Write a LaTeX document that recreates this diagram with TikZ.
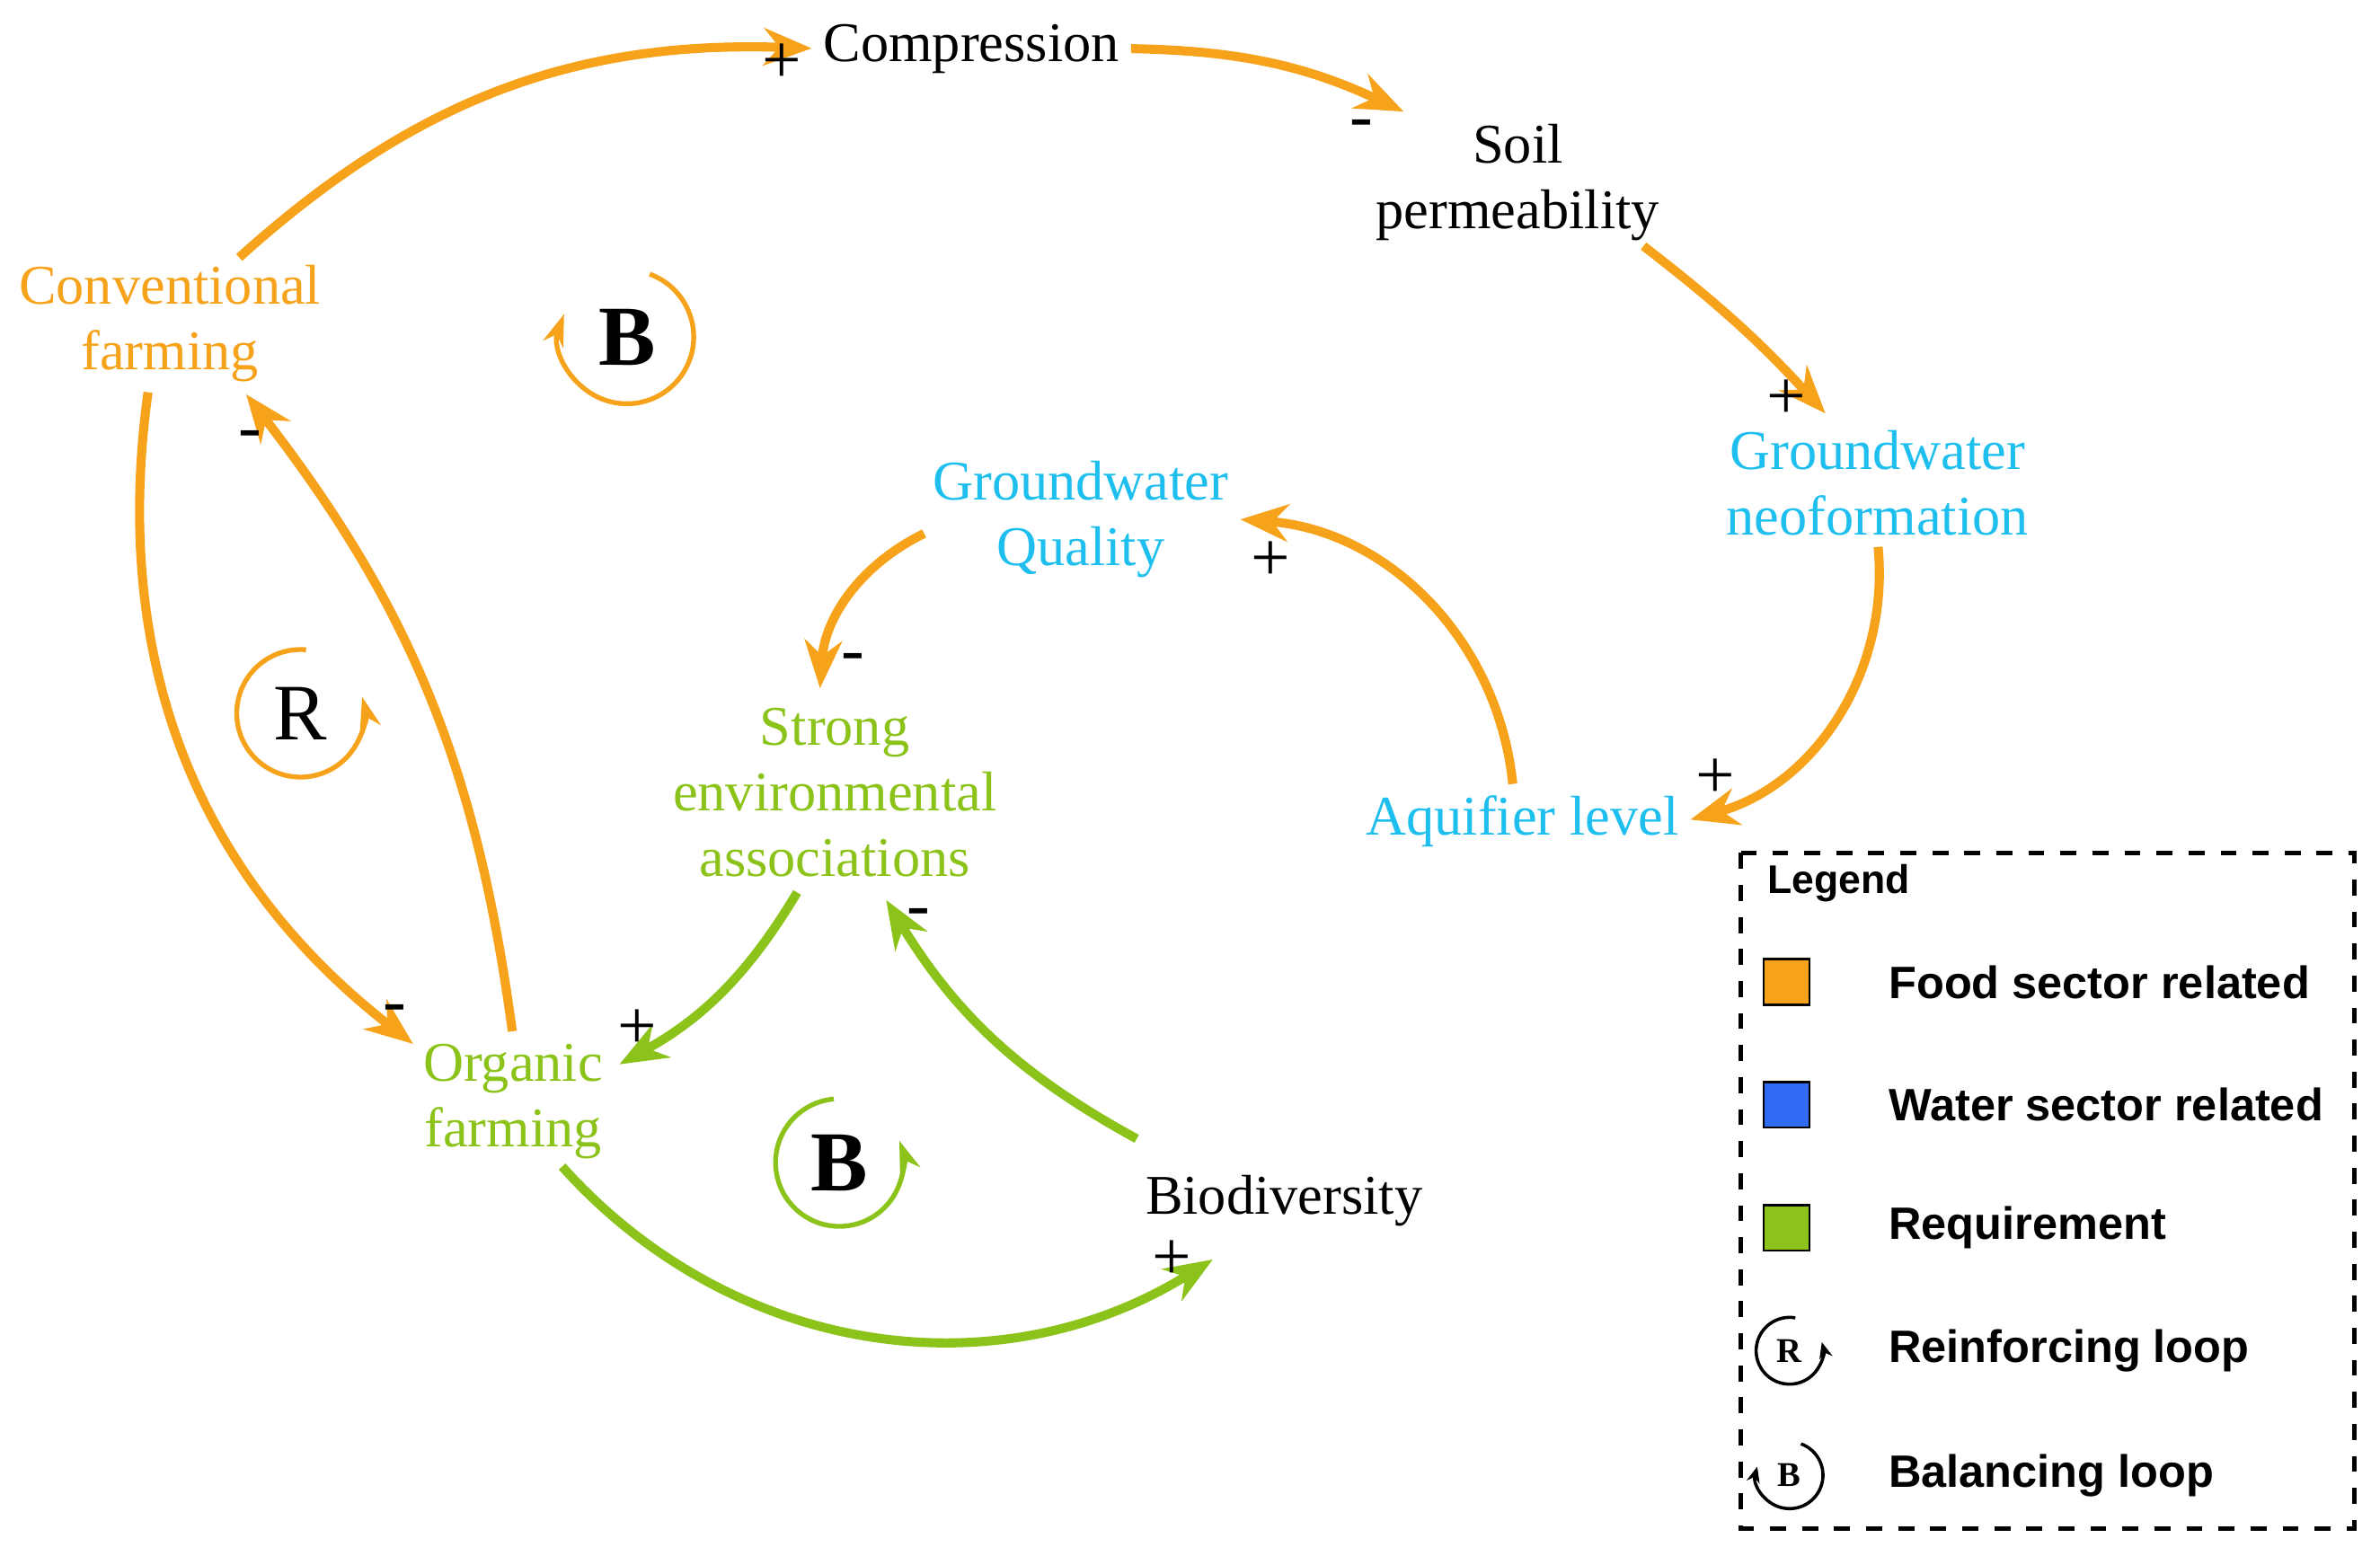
\documentclass[tikz,border=0pt]{standalone}
\usepackage{fontspec}
\setmainfont{Liberation Serif}
\newfontfamily\legendfont{Liberation Sans}
\usetikzlibrary{arrows.meta}
\usetikzlibrary{positioning}
\definecolor{foodc}{HTML}{F7A21B}
\definecolor{waterc}{HTML}{1EBFEF}
\definecolor{reqc}{HTML}{8CC31A}
\definecolor{legblue}{HTML}{2F6BF5}

\begin{document}
\begin{tikzpicture}[x=0.01cm,y=-0.01cm,
        var/.style={align=center,font=\fontsize{10.5}{12.3}\selectfont,inner sep=1pt},
        link/.style={-{Stealth[length=9pt,width=7pt]},line width=1.7pt,shorten >= 1pt,shorten <= 1pt},
        sign/.style={font=\fontsize{13}{13}\selectfont},
        loopc/.style={x=1cm,y=1cm,line width=0.9pt,-{Stealth[length=6pt,width=4pt]}},
        legtext/.style={font=\legendfont\bfseries\fontsize{8.5}{10}\selectfont,anchor=west},
        box/.style={draw=black,minimum size=0.3cm,inner sep=0pt},
    ]
        \useasboundingbox (0,0) rectangle (1568,1025);

        % variables
        \node[var] (comp)  at (640,32)  {Compression};
        \node[var] (soil)  at (1000,120) {Soil\\permeability};
        \node[var,text=foodc] (conv) at (112,213) {Conventional\\farming};
        \node[var,text=waterc] (gwneo) at (1237,318) {Groundwater\\neoformation};
        \node[var,text=waterc] (gwq) at (712,342) {Groundwater\\Quality};
        \node[var,text=reqc] (strong) at (550,522) {Strong\\environmental\\associations};
        \node[var,text=waterc] (aqui) at (1003,541) {Aquifier level};
        \node[var,text=reqc] (org) at (338,726) {Organic\\farming};
        \node[var] (bio) at (846,791) {Biodiversity};

        % links
        \draw[link,foodc] (155,172) to[bend left=22] (comp.west);
        \draw[link,foodc] (comp.east) to[bend left=12] (928,75);
        \draw[link,foodc] (1080,160) to[bend left=5] (1205,275);
        \draw[link,foodc] (gwneo.south) to[bend left=40] (aqui.east);
        \draw[link,foodc] (997,520) to[bend right=40] (gwq.east);
        \draw[link,foodc] (612,350) to[bend right=30] (540,457);
        \draw[link,reqc] (527,585) to[bend left=15] (405,703);
        \draw[link,reqc] (752,752) to[bend left=15] (582,590);
        \draw[link,reqc] (368,766) to[bend right=40] (802,828);
        \draw[link,foodc] (98,255) to[bend right=30] (275,690);
        \draw[link,foodc] (338,683) to[bend right=15] (160,257);

        % signs
        \node[sign] (s1)  at (515,42)  {+};
        \node[sign] (s2)  at (897,85)  {-};
        \node[sign] (s3)  at (1177,263) {+};
        \node[sign] (s4)  at (1130,513) {+};
        \node[sign] (s5)  at (837,370) {+};
        \node[sign] (s6)  at (562,437) {-};
        \node[sign] (s7)  at (420,678) {+};
        \node[sign] (s8)  at (605,605) {-};
        \node[sign] (s9)  at (772,830) {+};
        \node[sign] (s10) at (260,668) {-};
        \node[sign] (s11) at (165,290) {-};

        % loops
        \node[font=\fontsize{16}{16}\selectfont\bfseries] (loopb1) at (413,222) {B};
        \draw[loopc,foodc] ([shift={(70:0.44)}]loopb1.center) arc[start angle=70,end angle=-200,radius=0.44];
        \node[font=\fontsize{15}{15}\selectfont] (loopr) at (198,470) {R};
        \draw[loopc,foodc] ([shift={(85:0.42)}]loopr.center) arc[start angle=85,end angle=375,radius=0.42];
        \node[font=\fontsize{16}{16}\selectfont\bfseries] (loopb2) at (553,766) {B};
        \draw[loopc,reqc] ([shift={(95:0.42)}]loopb2.center) arc[start angle=95,end angle=380,radius=0.42];

        % legend
        \draw[dashed,line width=0.8pt] (1147,562) rectangle (1551,1007);
        \node[font=\legendfont\bfseries\fontsize{7.5}{9}\selectfont,anchor=west] (legt) at (1152,582) {Legend};
        \node[box,fill=foodc] (k1) at (1177,647) {};
        \node[box,fill=legblue] (k2) at (1177,728) {};
        \node[box,fill=reqc] (k3) at (1177,809) {};
        \node[font=\fontsize{6.5}{6.5}\selectfont\bfseries] (k4) at (1179,890) {R};
        \draw[loopc,line width=0.6pt,-{Stealth[length=3pt,width=2.5pt]}] ([shift={(80:0.22)}]k4.center) arc[start angle=80,end angle=375,radius=0.22];
        \node[font=\fontsize{6.5}{6.5}\selectfont\bfseries] (k5) at (1179,972) {B};
        \draw[loopc,line width=0.6pt,-{Stealth[length=3pt,width=2.5pt]}] ([shift={(70:0.22)}]k5.center) arc[start angle=70,end angle=-195,radius=0.22];
        \node[legtext] at (1232,647) {Food sector related};
        \node[legtext] at (1232,728) {Water sector related};
        \node[legtext] at (1232,809) {Requirement};
        \node[legtext] at (1232,890) {Reinforcing loop};
        \node[legtext] at (1232,972) {Balancing loop};
    \end{tikzpicture}
\end{document}
